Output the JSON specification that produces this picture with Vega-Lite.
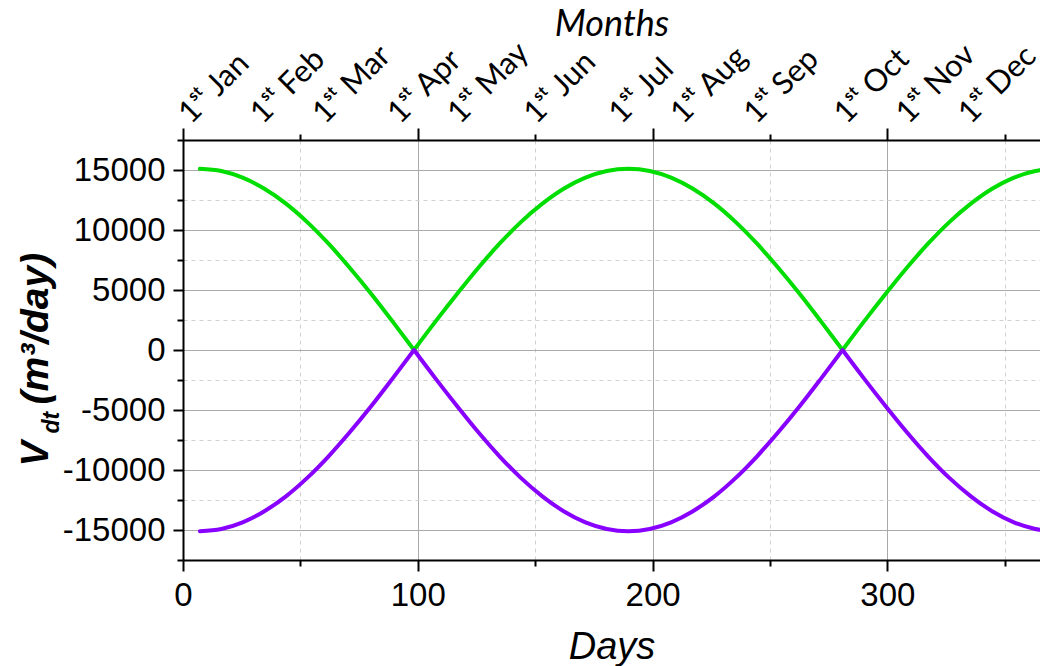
{
  "$schema": "https://vega.github.io/schema/vega-lite/v6.json",
  "width": 857,
  "height": 420,
  "autosize": {"type": "none"},
  "padding": {"left": 183, "top": 140, "right": 0, "bottom": 106},
  "background": "white",
  "config": {"view": {"stroke": null}, "font": "Liberation Sans"},
  "datasets": {
    "curves": [
      {"day": 7.2, "arch": 1, "Green": 15100, "Purple": -15100},
      {"day": 16.3, "arch": 1, "Green": 14914, "Purple": -14914},
      {"day": 25.4, "arch": 1, "Green": 14361, "Purple": -14361},
      {"day": 34.5, "arch": 1, "Green": 13454, "Purple": -13454},
      {"day": 43.7, "arch": 1, "Green": 12216, "Purple": -12216},
      {"day": 52.8, "arch": 1, "Green": 10677, "Purple": -10677},
      {"day": 61.9, "arch": 1, "Green": 8876, "Purple": -8876},
      {"day": 71.0, "arch": 1, "Green": 6855, "Purple": -6855},
      {"day": 80.2, "arch": 1, "Green": 4666, "Purple": -4666},
      {"day": 89.3, "arch": 1, "Green": 2362, "Purple": -2362},
      {"day": 98.4, "arch": 1, "Green": 0, "Purple": 0},
      {"day": 98.4, "arch": 2, "Green": 0, "Purple": 0},
      {"day": 107.5, "arch": 2, "Green": 2362, "Purple": -2362},
      {"day": 116.7, "arch": 2, "Green": 4666, "Purple": -4666},
      {"day": 125.8, "arch": 2, "Green": 6855, "Purple": -6855},
      {"day": 134.9, "arch": 2, "Green": 8876, "Purple": -8876},
      {"day": 144.0, "arch": 2, "Green": 10677, "Purple": -10677},
      {"day": 153.2, "arch": 2, "Green": 12216, "Purple": -12216},
      {"day": 162.3, "arch": 2, "Green": 13454, "Purple": -13454},
      {"day": 171.4, "arch": 2, "Green": 14361, "Purple": -14361},
      {"day": 180.5, "arch": 2, "Green": 14914, "Purple": -14914},
      {"day": 189.7, "arch": 2, "Green": 15100, "Purple": -15100},
      {"day": 198.8, "arch": 2, "Green": 14914, "Purple": -14914},
      {"day": 207.9, "arch": 2, "Green": 14361, "Purple": -14361},
      {"day": 217.0, "arch": 2, "Green": 13454, "Purple": -13454},
      {"day": 226.2, "arch": 2, "Green": 12216, "Purple": -12216},
      {"day": 235.3, "arch": 2, "Green": 10677, "Purple": -10677},
      {"day": 244.4, "arch": 2, "Green": 8876, "Purple": -8876},
      {"day": 253.5, "arch": 2, "Green": 6855, "Purple": -6855},
      {"day": 262.7, "arch": 2, "Green": 4666, "Purple": -4666},
      {"day": 271.8, "arch": 2, "Green": 2362, "Purple": -2362},
      {"day": 280.9, "arch": 2, "Green": 0, "Purple": 0},
      {"day": 280.9, "arch": 3, "Green": 0, "Purple": 0},
      {"day": 290.0, "arch": 3, "Green": 2362, "Purple": -2362},
      {"day": 299.2, "arch": 3, "Green": 4666, "Purple": -4666},
      {"day": 308.3, "arch": 3, "Green": 6855, "Purple": -6855},
      {"day": 317.4, "arch": 3, "Green": 8876, "Purple": -8876},
      {"day": 326.5, "arch": 3, "Green": 10677, "Purple": -10677},
      {"day": 335.7, "arch": 3, "Green": 12216, "Purple": -12216},
      {"day": 344.8, "arch": 3, "Green": 13454, "Purple": -13454},
      {"day": 353.9, "arch": 3, "Green": 14361, "Purple": -14361},
      {"day": 363.0, "arch": 3, "Green": 14914, "Purple": -14914},
      {"day": 365.0, "arch": 3, "Green": 14991, "Purple": -14991}
    ],
    "months": [
      {"day": 3.4, "label": "1ˢᵗ Jan"},
      {"day": 34.0, "label": "1ˢᵗ Feb"},
      {"day": 60.5, "label": "1ˢᵗ Mar"},
      {"day": 92.4, "label": "1ˢᵗ Apr"},
      {"day": 118.0, "label": "1ˢᵗ May"},
      {"day": 150.4, "label": "1ˢᵗ Jun"},
      {"day": 186.6, "label": "1ˢᵗ Jul"},
      {"day": 213.0, "label": "1ˢᵗ Aug"},
      {"day": 244.1, "label": "1ˢᵗ Sep"},
      {"day": 282.6, "label": "1ˢᵗ Oct"},
      {"day": 309.0, "label": "1ˢᵗ Nov"},
      {"day": 335.5, "label": "1ˢᵗ Dec"}
    ]
  },
  "layer": [
    {
      "data": {"name": "curves"},
      "transform": [{"fold": ["Green", "Purple"], "as": ["series", "V"]}],
      "mark": {"type": "line", "strokeWidth": 4, "strokeCap": "round", "strokeJoin": "round", "interpolate": "monotone", "clip": true},
      "encoding": {
        "x": {
          "field": "day", "type": "quantitative",
          "scale": {"domain": [0, 365], "nice": false, "zero": false},
          "axis": {
            "orient": "bottom", "values": [0, 100, 200, 300], "labelExpr": "'' + datum.value",
            "tickSize": 11, "tickWidth": 2, "tickColor": "black",
            "domainColor": "black", "domainWidth": 2,
            "labelFont": "Liberation Sans", "labelFontSize": 33, "labelColor": "black", "labelPadding": 8,
            "labelFlush": false, "labelOverlap": false,
            "grid": true, "gridColor": "#a9a9a9", "gridWidth": 1,
            "title": "Days", "titleFont": "Liberation Sans", "titleFontStyle": "italic", "titleFontWeight": "normal",
            "titleFontSize": 38, "titleColor": "black", "titleBaseline": "alphabetic", "titleY": 98
          }
        },
        "y": {
          "field": "V", "type": "quantitative",
          "scale": {"domain": [-17500, 17500], "nice": false, "zero": false},
          "axis": {
            "orient": "left", "values": [-15000, -10000, -5000, 0, 5000, 10000, 15000], "labelExpr": "'' + datum.value",
            "tickSize": 10, "tickWidth": 2, "tickColor": "black",
            "domainColor": "black", "domainWidth": 2,
            "labelFont": "Liberation Sans", "labelFontSize": 33, "labelColor": "black", "labelPadding": 8,
            "labelFlush": false, "labelOverlap": false,
            "grid": true, "gridColor": "#a9a9a9", "gridWidth": 1,
            "title": "V", "titleFont": "Liberation Sans", "titleFontStyle": "italic", "titleFontWeight": "bold",
            "titleFontSize": 38, "titleColor": "black", "titleAngle": -90, "titleAlign": "left",
            "titleBaseline": "alphabetic", "titleX": -136, "titleY": 326
          }
        },
        "color": {
          "field": "series", "type": "nominal",
          "scale": {"domain": ["Green", "Purple"], "range": ["#00dd00", "#8800ff"]},
          "legend": null
        },
        "detail": {"field": "arch", "type": "nominal"}
      }
    },
    {
      "data": {"name": "curves"},
      "transform": [{"fold": ["Green", "Purple"], "as": ["series", "V"]}],
      "mark": {"type": "point", "opacity": 0},
      "encoding": {
        "x": {
          "field": "day", "type": "quantitative",
          "axis": {
            "orient": "bottom", "values": [50, 150, 250, 350],
            "tickSize": 6, "tickWidth": 2, "tickColor": "black",
            "domain": false, "labels": false,
            "grid": true, "gridColor": "#d0d0d0", "gridWidth": 1, "gridDash": [4, 4],
            "title": null
          }
        },
        "y": {
          "field": "V", "type": "quantitative",
          "axis": {
            "orient": "left", "values": [-17500, -12500, -7500, -2500, 2500, 7500, 12500, 17500],
            "tickSize": 6, "tickWidth": 2, "tickColor": "black",
            "domain": false, "labels": false,
            "grid": true, "gridColor": "#d0d0d0", "gridWidth": 1, "gridDash": [4, 4],
            "title": "dt", "titleFont": "Liberation Sans", "titleFontStyle": "italic", "titleFontWeight": "bold",
            "titleFontSize": 23, "titleColor": "black", "titleAngle": -90, "titleAlign": "left",
            "titleBaseline": "alphabetic", "titleX": -125, "titleY": 293
          }
        }
      }
    },
    {
      "data": {"name": "curves"},
      "transform": [{"fold": ["Green", "Purple"], "as": ["series", "V"]}],
      "mark": {"type": "point", "opacity": 0},
      "encoding": {
        "x": {
          "field": "day", "type": "quantitative",
          "axis": {
            "orient": "top", "values": [0, 100, 200, 300],
            "tickSize": 12, "tickWidth": 2, "tickColor": "black",
            "domainColor": "black", "domainWidth": 2, "labels": false, "grid": false,
            "title": "Months", "titleFont": "Lato", "titleFontStyle": "italic", "titleFontWeight": "normal",
            "titleFontSize": 36, "titleColor": "black", "titleBaseline": "alphabetic", "titleY": -105
          }
        },
        "y": {
          "field": "V", "type": "quantitative",
          "axis": {
            "orient": "left", "ticks": false, "domain": false, "labels": false, "grid": false,
            "title": "(m³/day)", "titleFont": "Liberation Sans", "titleFontStyle": "italic", "titleFontWeight": "bold",
            "titleFontSize": 39, "titleColor": "black", "titleAngle": -90, "titleAlign": "left",
            "titleBaseline": "alphabetic", "titleX": -136, "titleY": 264
          }
        }
      }
    },
    {
      "data": {"name": "months"},
      "mark": {"type": "text", "angle": -45, "align": "left", "baseline": "alphabetic", "font": "Lato", "fontSize": 31, "color": "black", "yOffset": -15},
      "encoding": {
        "x": {
          "field": "day", "type": "quantitative",
          "axis": {
            "orient": "top", "values": [50, 150, 250, 350],
            "tickSize": 6, "tickWidth": 2, "tickColor": "black",
            "domain": false, "labels": false, "grid": false, "title": null
          }
        },
        "y": {"datum": 17500, "type": "quantitative", "axis": null},
        "text": {"field": "label"}
      }
    }
  ],
  "resolve": {"axis": {"x": "independent", "y": "independent"}}
}
